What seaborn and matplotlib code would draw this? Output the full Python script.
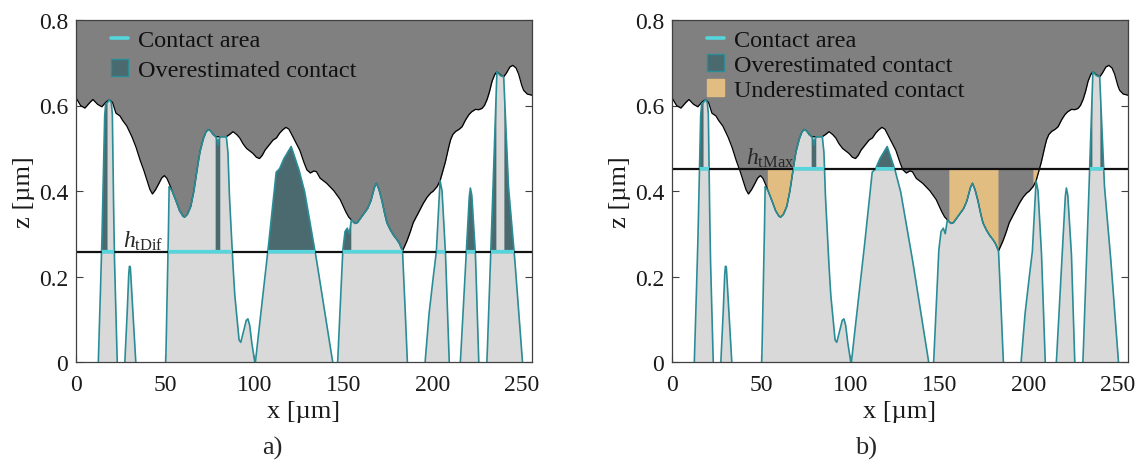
import numpy as np
import matplotlib
matplotlib.use("Agg")
import matplotlib.pyplot as plt
from matplotlib.lines import Line2D
from matplotlib.patches import Patch
import seaborn as sns

# Upper (rigid) surface profile: x [µm], z [µm]
upper_x = [0, 2.5, 5, 7.5, 9.5, 12, 14.5, 16.5, 18.7, 20.5, 22.4, 24.6, 26, 28.4, 31.2,
           33.5, 35.8, 37.8, 39.6, 41.3, 42.9, 44.5, 46.1, 48, 49.6, 51, 52.3, 54, 56,
           58, 60, 61, 62.5, 64.4, 66, 67.6, 69.5, 71.3, 72.8, 74.1, 75.5, 77, 78.5,
           81, 84.4, 86.5, 88.1, 90, 91.8, 93.5, 95.6, 97.5, 99.3, 101.2, 103, 104.5,
           106, 107.7, 110.5, 112.5, 114.2, 116, 117.8, 119.5, 121.7, 123.5, 125.6,
           127.5, 129.5, 131.5, 133.5, 135, 137, 140.5, 144.5, 148.2, 151, 152.9,
           154.6, 156.6, 158, 159.4, 161.3, 163.5, 165.5, 167.5, 168.7, 170, 171.5,
           173, 174.5, 176.2, 178, 179.9, 181.5, 183.3, 185.5, 187.4, 189.2, 191.1,
           193, 194.8, 197, 199, 200.4, 202.7, 204.4, 205.5, 207.2, 208.8, 210.2,
           211.5, 213, 215, 216.7, 218.5, 220.4, 222, 224.2, 226, 227.9, 229.3, 230.7,
           232, 233.5, 235, 236.3, 238.2, 240.1, 241.5, 243.5, 245.2, 247, 248.4, 250,
           251.2, 253.2, 256]
upper_z = [0.618, 0.600, 0.594, 0.606, 0.614, 0.603, 0.597, 0.607, 0.614, 0.607, 0.582,
           0.576, 0.566, 0.553, 0.529, 0.505, 0.474, 0.452, 0.428, 0.405, 0.393, 0.402,
           0.414, 0.430, 0.436, 0.430, 0.418, 0.400, 0.379, 0.355, 0.341, 0.339, 0.345,
           0.363, 0.395, 0.440, 0.490, 0.520, 0.537, 0.544, 0.541, 0.532, 0.527, 0.527,
           0.527, 0.533, 0.539, 0.533, 0.525, 0.512, 0.500, 0.494, 0.488, 0.479, 0.476,
           0.483, 0.495, 0.504, 0.519, 0.524, 0.535, 0.543, 0.549, 0.545, 0.527, 0.512,
           0.496, 0.472, 0.450, 0.442, 0.447, 0.445, 0.430, 0.419, 0.402, 0.381, 0.355,
           0.340, 0.332, 0.324, 0.326, 0.334, 0.345, 0.357, 0.376, 0.408, 0.418, 0.405,
           0.382, 0.352, 0.326, 0.311, 0.298, 0.288, 0.278, 0.260, 0.280, 0.301, 0.325,
           0.340, 0.355, 0.370, 0.385, 0.395, 0.399, 0.410, 0.424, 0.440, 0.465, 0.495,
           0.519, 0.532, 0.539, 0.544, 0.550, 0.565, 0.578, 0.585, 0.591, 0.590, 0.593,
           0.600, 0.613, 0.630, 0.656, 0.672, 0.679, 0.672, 0.667, 0.675, 0.690, 0.694,
           0.688, 0.675, 0.650, 0.636, 0.627, 0.624]

# Lower (deformable) surface profile: x [µm], z [µm]
lower_x = [0, 11.8, 12.5, 14.4, 15.4, 16.0, 16.6, 17.7, 18.7, 19.8, 20.4, 20.8, 21.5,
           23.1, 23.6, 26.9, 27.4, 28.6, 29.5, 30.0, 30.5, 31.2, 32.4, 33.6, 34.0,
           50.0, 50.4, 51.7, 52.3, 54, 56, 58, 60, 61, 62.5, 64.4, 66, 67.6, 69.5,
           71.3, 72.8, 74.1, 75.5, 77, 78.5, 79.2, 79.7, 80.2, 80.8, 84.4, 85.3, 86.0,
           87.7, 89.0, 91.5, 92.5, 94.0, 95.5, 96.5, 97.5, 98.5, 100.2, 100.6, 101.5,
           104.5, 107.7, 110.0, 112.4, 114.3, 116.5, 120.8, 125.0, 128.3, 134.6, 144.1,
           144.6, 146.4, 146.9, 149.7, 151.0, 152.3, 153.4, 154.6, 156.6, 158, 159.4,
           161.3, 163.5, 165.5, 167.5, 168.7, 170, 171.5, 173, 174.5, 176.2, 178,
           179.9, 181.5, 183.3, 184.2, 186.0, 186.5, 195.5, 196.0, 198.0, 199.9, 202.3,
           204.4, 205.5, 207.4, 209.5, 210.0, 215.0, 215.8, 219.1, 220.6, 221.4,
           222.2, 224.2, 226.1, 226.5, 230.2, 230.7, 232.9, 236.3, 238.2, 240.1,
           241.2, 242.8, 246.0, 250.7, 251.2, 256]
lower_z = [-0.10, -0.10, 0.0, 0.258, 0.450, 0.570, 0.604, 0.607, 0.614, 0.607, 0.580,
           0.450, 0.258, 0.0, -0.05, -0.05, 0.0, 0.100, 0.200, 0.224, 0.222, 0.170,
           0.080, 0.0, -0.05, -0.05, 0.0, 0.258, 0.410, 0.400, 0.379, 0.355, 0.341,
           0.339, 0.345, 0.363, 0.395, 0.440, 0.490, 0.520, 0.537, 0.544, 0.541, 0.532,
           0.527, 0.520, 0.507, 0.520, 0.527, 0.527, 0.490, 0.400, 0.258, 0.163, 0.052,
           0.046, 0.070, 0.097, 0.101, 0.086, 0.050, 0.003, -0.005, 0.030, 0.140,
           0.258, 0.350, 0.444, 0.452, 0.474, 0.504, 0.452, 0.400, 0.250, 0.0, -0.03,
           -0.03, 0.0, 0.258, 0.305, 0.313, 0.300, 0.332, 0.324, 0.326, 0.334, 0.345,
           0.357, 0.376, 0.408, 0.418, 0.405, 0.382, 0.352, 0.326, 0.311, 0.298, 0.288,
           0.278, 0.260, 0.180, 0.0, -0.05, -0.05, 0.0, 0.105, 0.176, 0.258, 0.424,
           0.400, 0.258, 0.0, -0.05, -0.05, 0.0, 0.258, 0.380, 0.407, 0.390, 0.258,
           0.0, -0.05, -0.05, 0.0, 0.258, 0.679, 0.670, 0.667, 0.560, 0.410, 0.258,
           0.0, -0.05, -0.05]

# Separation thresholds [µm]
h_tdif = 0.258
h_tmax = 0.452

# x-ranges of over- and underestimated contact [µm]
over_a = [(14.4, 17.7), (78.4, 81.0), (106.0, 136.0), (149.0, 154.6),
          (218.0, 225.5), (232.0, 236.0), (240.5, 247.0)]
over_b = [(14.4, 17.7), (78.4, 81.0), (106.0, 136.0), (232.0, 236.0), (240.5, 247.0)]
under_b = [(53.8, 69.0), (155.7, 183.3), (202.9, 206.5)]

legend_labels = ["Contact area", "Overestimated contact", "Underestimated contact"]
x_ticks = [0, 50, 100, 150, 200, 250]
z_ticks = [0, 0.2, 0.4, 0.6, 0.8]
z_tick_labels = ["0", "0.2", "0.4", "0.6", "0.8"]

C_TOP = "#808080"
C_BOT = "#d9d9d9"
C_EDGE = "#2a8d96"
C_CONTACT = "#55d6dc"
C_OVER = "#4a6a70"
C_UNDER = "#e2bd82"
C_AXIS = "#404040"

sns.set_theme(style="white")
plt.rcParams["font.family"] = ["Liberation Serif", "DejaVu Serif"]
plt.rcParams["mathtext.fontset"] = "custom"
plt.rcParams["mathtext.rm"] = "Liberation Serif"
plt.rcParams["mathtext.it"] = "Liberation Serif:italic"

xs = np.linspace(0, 256, 5121)
up = np.interp(xs, upper_x, upper_z)
lo = np.minimum(np.interp(xs, lower_x, lower_z), up)


def in_ranges(ranges):
    m = np.zeros_like(xs, dtype=bool)
    for a, b in ranges:
        m |= (xs >= a) & (xs <= b)
    return m


def draw_panel(ax, h, hlabel, hlabel_x, over, under, handles, spacing):
    ax.fill_between(xs, up, 0.85, color=C_TOP, lw=0, zorder=1)
    ax.fill_between(xs, lo, -0.2, color=C_BOT, lw=0, zorder=2)
    if under:
        base = np.maximum(lo, up)
        m = in_ranges(under) & (base < h)
        ax.fill_between(xs, base, h, where=m, color=C_UNDER, lw=0, zorder=3)
    m = in_ranges(over) & (lo > h)
    ax.fill_between(xs, h, lo, where=m, color=C_OVER, lw=0, zorder=3)
    sns.lineplot(x=xs, y=up, ax=ax, color="black", lw=0.9, estimator=None,
                 sort=False, zorder=4)
    sns.lineplot(x=xs, y=lo, ax=ax, color=C_EDGE, lw=1.2, estimator=None,
                 sort=False, zorder=5)
    ax.axhline(h, color="#111111", lw=1.6, zorder=6)
    ax.plot(xs, np.where(lo > h, h, np.nan), color=C_CONTACT, lw=2.6,
            solid_capstyle="butt", zorder=7)
    ax.text(hlabel_x, h + 0.012, hlabel, fontsize=17, ha="left", va="baseline",
            zorder=8)

    ax.set_xlim(0, 256)
    ax.set_ylim(0, 0.8)
    ax.set_xticks(x_ticks)
    ax.set_yticks(z_ticks)
    ax.set_yticklabels(z_tick_labels)
    ax.tick_params(direction="in", bottom=True, left=True, top=True, right=True,
                   length=5, width=0.8, labelsize=17, colors=C_AXIS,
                   labelcolor="#1a1a1a")
    ax.tick_params(axis="x", pad=9)
    ax.tick_params(axis="y", pad=5.5)
    for s in ax.spines.values():
        s.set_visible(True)
        s.set_color(C_AXIS)
        s.set_linewidth(0.9)
        s.set_zorder(10)
    ax.set_xlabel("x [µm]", fontsize=19, labelpad=3, color="#1a1a1a")
    ax.set_ylabel("z [µm]", fontsize=19, labelpad=3, color="#1a1a1a")
    leg = ax.legend(handles=handles, loc="upper left", bbox_to_anchor=(0.072, 0.98),
                    frameon=False, fontsize=17.5, handlelength=0.7, handleheight=0.7,
                    handletextpad=0.4, labelspacing=spacing, borderpad=0.1,
                    borderaxespad=0.0)
    for t in leg.get_texts():
        t.set_color("#111111")
    leg.set_zorder(12)


def make_handles(n):
    hs = [Line2D([], [], color=C_CONTACT, lw=2.6, label=legend_labels[0]),
          Patch(facecolor=C_OVER, edgecolor=C_EDGE, lw=1.0, label=legend_labels[1]),
          Patch(facecolor=C_UNDER, edgecolor=C_UNDER, lw=1.0, label=legend_labels[2])]
    return hs[:n]


fig = plt.figure(figsize=(11.43, 4.64), dpi=100)
ax_a = fig.add_axes([76 / 1143, 101 / 464, 456 / 1143, 342 / 464])
ax_b = fig.add_axes([672 / 1143, 101 / 464, 456 / 1143, 342 / 464])

draw_panel(ax_a, h_tdif, r"$h_{\mathrm{tDif}}$", 26.5, over_a, None,
           make_handles(2), 0.33)
draw_panel(ax_b, h_tmax, r"$h_{\mathrm{tMax}}$", 41.5, over_b, under_b,
           make_handles(3), 0.12)

fig.text(272 / 1143, 1 - 448 / 464, "a)", fontsize=19, ha="center", va="center")
fig.text(866 / 1143, 1 - 448 / 464, "b)", fontsize=19, ha="center", va="center")

fig.savefig("out.png", dpi=100)
